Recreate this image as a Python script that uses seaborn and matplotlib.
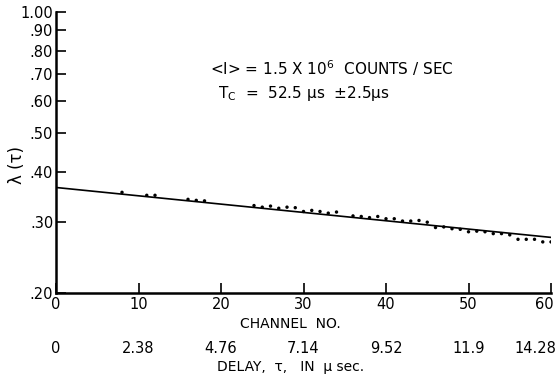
import matplotlib
matplotlib.use("Agg")
import matplotlib.pyplot as plt
import matplotlib.transforms as mtransforms
import seaborn as sns
import pandas as pd

# ---- data ----
channels = [8, 11, 12, 16, 17, 18, 24, 25, 26, 27, 28, 29, 30, 31, 32, 33, 34,
            36, 37, 38, 39, 40, 41, 42, 43, 44, 45, 46, 47, 48, 49, 50, 51, 52,
            53, 54, 55, 56, 57, 58, 59, 60]
lam = [0.356, 0.350, 0.350, 0.342, 0.340, 0.339, 0.330, 0.327, 0.329, 0.325,
       0.327, 0.326, 0.319, 0.321, 0.319, 0.316, 0.318, 0.311, 0.310, 0.308,
       0.310, 0.306, 0.306, 0.302, 0.302, 0.303, 0.300, 0.291, 0.292, 0.289,
       0.288, 0.284, 0.285, 0.284, 0.281, 0.281, 0.279, 0.272, 0.272, 0.272,
       0.268, 0.268]
fit_x = [0, 60]
fit_y = [0.366, 0.275]

x_ticks = [0, 10, 20, 30, 40, 50, 60]
delay_labels = ["0", "2.38", "4.76", "7.14", "9.52", "11.9", "14.28"]
y_ticks = [0.20, 0.30, 0.40, 0.50, 0.60, 0.70, 0.80, 0.90, 1.00]
y_labels = [".20", ".30", ".40", ".50", ".60", ".70", ".80", ".90", "1.00"]

pts = pd.DataFrame({"channel": channels, "lam": lam})
fit = pd.DataFrame({"channel": fit_x, "lam": fit_y})

sns.set_style("white")
plt.rcParams["font.family"] = ["DejaVu Sans"]
plt.rcParams["text.color"] = "black"

fig = plt.figure(figsize=(5.59, 3.74), dpi=100)
ax = fig.add_axes([0.1002, 0.2166, 0.8855, 0.7513])

sns.lineplot(data=fit, x="channel", y="lam", ax=ax, color="black", linewidth=1.2)
sns.scatterplot(data=pts, x="channel", y="lam", ax=ax, color="black", s=6,
                marker="o", edgecolor="none")

ax.set_yscale("log")
ax.set_xlim(0, 60)
ax.set_ylim(0.20, 1.00)
ax.set_yticks(y_ticks)
ax.set_yticklabels(y_labels)
ax.yaxis.set_minor_locator(matplotlib.ticker.NullLocator())
ax.set_xticks(x_ticks)
ax.set_xticklabels([str(t) for t in x_ticks])

for s in ["top", "right"]:
    ax.spines[s].set_visible(False)
for s in ["left", "bottom"]:
    ax.spines[s].set_linewidth(1.8)
    ax.spines[s].set_color("black")

ax.tick_params(axis="y", direction="in", length=7, width=1.2, labelsize=10.5,
               pad=2, colors="black", left=True)
ax.tick_params(axis="x", direction="in", length=7, width=1.2, labelsize=10.5,
               pad=3, colors="black", bottom=True)

# last x tick label sits left of its tick, as in the reference
xlabs = ax.get_xticklabels()
xlabs[-1].set_horizontalalignment("right")
xlabs[-1].set_transform(xlabs[-1].get_transform() +
                        mtransforms.ScaledTranslation(3 / 100, 0, fig.dpi_scale_trans))

ax.set_xlabel("")
ax.set_ylabel("")

fig.text(0.030, 0.56, "λ (τ)", rotation=90, fontsize=12, ha="center",
         va="center", color="black")
fig.text(0.52, 0.135, "CHANNEL  NO.", fontsize=10, ha="center", va="center",
         color="black")

trans = mtransforms.blended_transform_factory(ax.transData, fig.transFigure)
for x, lab in zip(x_ticks, delay_labels):
    if x == x_ticks[-1]:
        ax.text(x, 0.068, lab, fontsize=10.5, ha="right", va="center",
                color="black",
                transform=trans + mtransforms.ScaledTranslation(
                    5 / 100, 0, fig.dpi_scale_trans))
    else:
        ax.text(x, 0.068, lab, transform=trans, fontsize=10.5, ha="center",
                va="center", color="black")
fig.text(0.52, 0.018, "DELAY,  τ,   IN  μ sec.", fontsize=10, ha="center",
         va="center", color="black")

ax.text(0.376, 0.818, r"<I> = 1.5 X 10$^{6}$  COUNTS / SEC",
        transform=fig.transFigure, fontsize=11, ha="left", va="center",
        color="black")
ax.text(0.390, 0.751, r"T$_\mathregular{C}$  =  52.5 μs  ±2.5μs",
        transform=fig.transFigure, fontsize=11, ha="left", va="center",
        color="black")

fig.savefig("out.png", dpi=100)
